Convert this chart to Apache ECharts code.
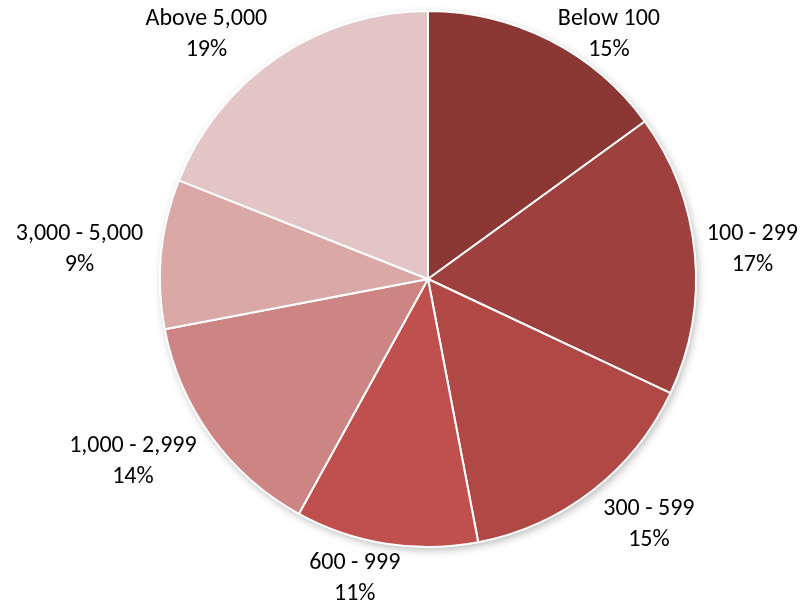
<!DOCTYPE html>
<html><head><meta charset="utf-8">
<script src="https://cdn.jsdelivr.net/npm/echarts@6/dist/echarts.min.js"></script>
<style>html,body{margin:0;padding:0;background:#fff}#chart{width:802px;height:603px}</style>
</head><body><div id="chart"></div>
<script>
const categories = ['Below 100', '100 - 299', '300 - 599', '600 - 999', '1,000 - 2,999', '3,000 - 5,000', 'Above 5,000'];
const shares = [15, 17, 15, 11, 14, 9, 19];
const colors = ['#8B3734', '#9E403D', '#B04845', '#C0504D', '#CD8583', '#D9A8A7', '#E3C5C6'];

const CX = 428, CY = 279, R = 268, GAPX = 18, GAPY = 12, W = 802, H = 603;
function clamp1(v) { return Math.max(-1, Math.min(1, v)); }
const chart = echarts.init(document.getElementById('chart'), null, {renderer: 'canvas'});
chart.setOption({
  animation: false,
  series: [{
    // soft drop shadow behind the whole pie
    type: 'pie', silent: true, center: [CX, CY], radius: R, z: 1,
    label: {show: false}, labelLine: {show: false}, tooltip: {show: false},
    data: [{value: 1, name: '', itemStyle: {color: '#ffffff', shadowBlur: 8, shadowOffsetX: 2, shadowOffsetY: 3, shadowColor: 'rgba(0,0,0,0.28)'}}]
  }, {
    type: 'pie',
    z: 2,
    center: [CX, CY],
    radius: R,
    startAngle: 90,
    clockwise: true,
    avoidLabelOverlap: false,
    data: categories.map((c, i) => ({name: c, value: shares[i], itemStyle: {color: colors[i]}})),
    itemStyle: {borderColor: '#ffffff', borderWidth: 2},
    label: {
      show: true, position: 'outside',
      formatter: p => p.name + '\n' + Math.round(p.percent) + '%',
      fontFamily: 'Carlito, Lato', fontSize: 24, lineHeight: 31, color: '#000',
      distanceToLabelLine: 0
    },
    labelLine: {show: false, length: 0, length2: 0},
    labelLayout: function (p) {
      const r = p.labelRect;
      const w = r.width, h = r.height;
      const left = (r.x + w / 2) < CX;
      const ax = left ? r.x + w : r.x;
      const ay = r.y + h / 2;
      let ux = ax - CX, uy = ay - CY;
      const n = Math.hypot(ux, uy); ux /= n; uy /= n;
      let x = CX + ux * (R + GAPX) + clamp1(4 * ux) * w / 2;
      let y = CY + uy * (R + GAPY) + uy * h / 2;
      const minY = h / 2 + 3, maxY = H - h / 2 + 6;
      y = Math.min(Math.max(y, minY), maxY);
      x = Math.min(Math.max(x, w / 2 + 4), W - w / 2 - 4);
      return {x: x, y: y, align: 'center', verticalAlign: 'middle'};
    }
  }]
});
</script>
</body></html>
